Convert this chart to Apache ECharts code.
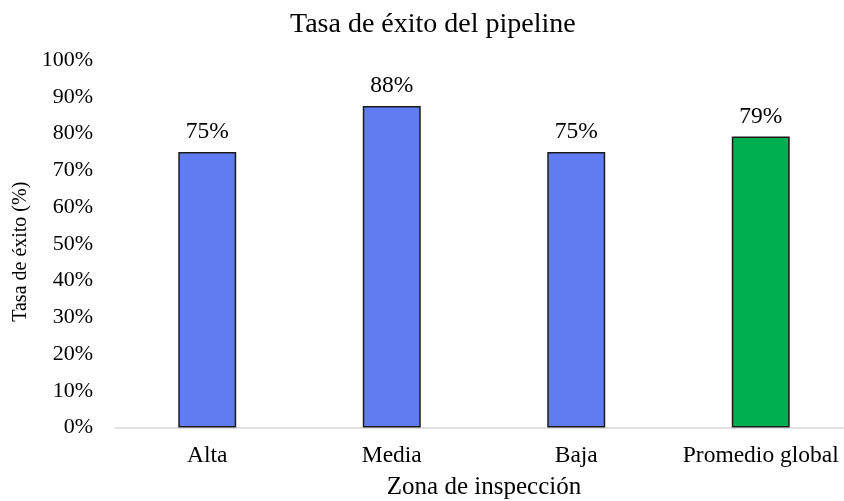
<!DOCTYPE html>
<html>
<head>
<meta charset="utf-8">
<script src="https://cdn.jsdelivr.net/npm/echarts@6/dist/echarts.min.js"></script>
<style>
  html, body { margin: 0; padding: 0; background: #fff; }
  #chart { width: 844px; height: 501px; }
</style>
</head>
<body>
<div id="chart"></div>
<script>
// Success rate per inspection zone, plus the overall average
const categories = ['Alta', 'Media', 'Baja', 'Promedio global'];
const successRate = [75, 87.5, 75, 79.17];
const barColors = ['#5f7cf1', '#5f7cf1', '#5f7cf1', '#00b050'];
const yTicks = [0, 10, 20, 30, 40, 50, 60, 70, 80, 90, 100];

const FONT = '"Liberation Serif", "Times New Roman", serif';

const chart = echarts.init(document.getElementById('chart'));
chart.setOption({
  animation: false,
  backgroundColor: '#ffffff',
  textStyle: { fontFamily: FONT, color: '#000' },
  title: {
    text: 'Tasa de éxito del pipeline',
    left: 285,
    top: 6,
    textStyle: { fontFamily: FONT, fontSize: 28, fontWeight: 'normal', color: '#000' }
  },
  grid: {
    left: 115, right: -9, top: 60, bottom: 73.5,
    containLabel: false,
    outerBoundsMode: 'none'
  },
  xAxis: {
    type: 'category',
    data: categories,
    name: 'Zona de inspección',
    nameLocation: 'middle',
    nameGap: 47,
    nameTextStyle: { fontFamily: FONT, fontSize: 25, color: '#000' },
    axisLine: { lineStyle: { color: '#d9d9d9', width: 1.5 } },
    axisTick: { show: false },
    axisLabel: { interval: 0, fontFamily: FONT, fontSize: 23.5, color: '#000', margin: 16 }
  },
  yAxis: {
    type: 'value',
    min: yTicks[0],
    max: yTicks[yTicks.length - 1],
    interval: yTicks[1] - yTicks[0],
    name: 'Tasa de éxito (%)',
    nameLocation: 'middle',
    nameGap: 71,
    nameTextStyle: { fontFamily: FONT, fontSize: 20, color: '#000', padding: [0, 16, 0, 0] },
    axisLine: { show: false },
    axisTick: { show: false },
    splitLine: { show: false },
    axisLabel: {
      fontFamily: FONT, fontSize: 22, color: '#000', margin: 22,
      formatter: v => v + '%'
    }
  },
  series: [{
    type: 'bar',
    barWidth: '31.4%',
    data: successRate.map((v, i) => ({
      value: v,
      itemStyle: { color: barColors[i] }
    })),
    itemStyle: { borderColor: '#1a1a1a', borderWidth: 1.5 },
    label: {
      show: true,
      position: 'top',
      distance: 8,
      fontFamily: FONT,
      fontSize: 23.5,
      color: '#000',
      formatter: p => p.value.toFixed(0) + '%'
    }
  }]
});
</script>
</body>
</html>
